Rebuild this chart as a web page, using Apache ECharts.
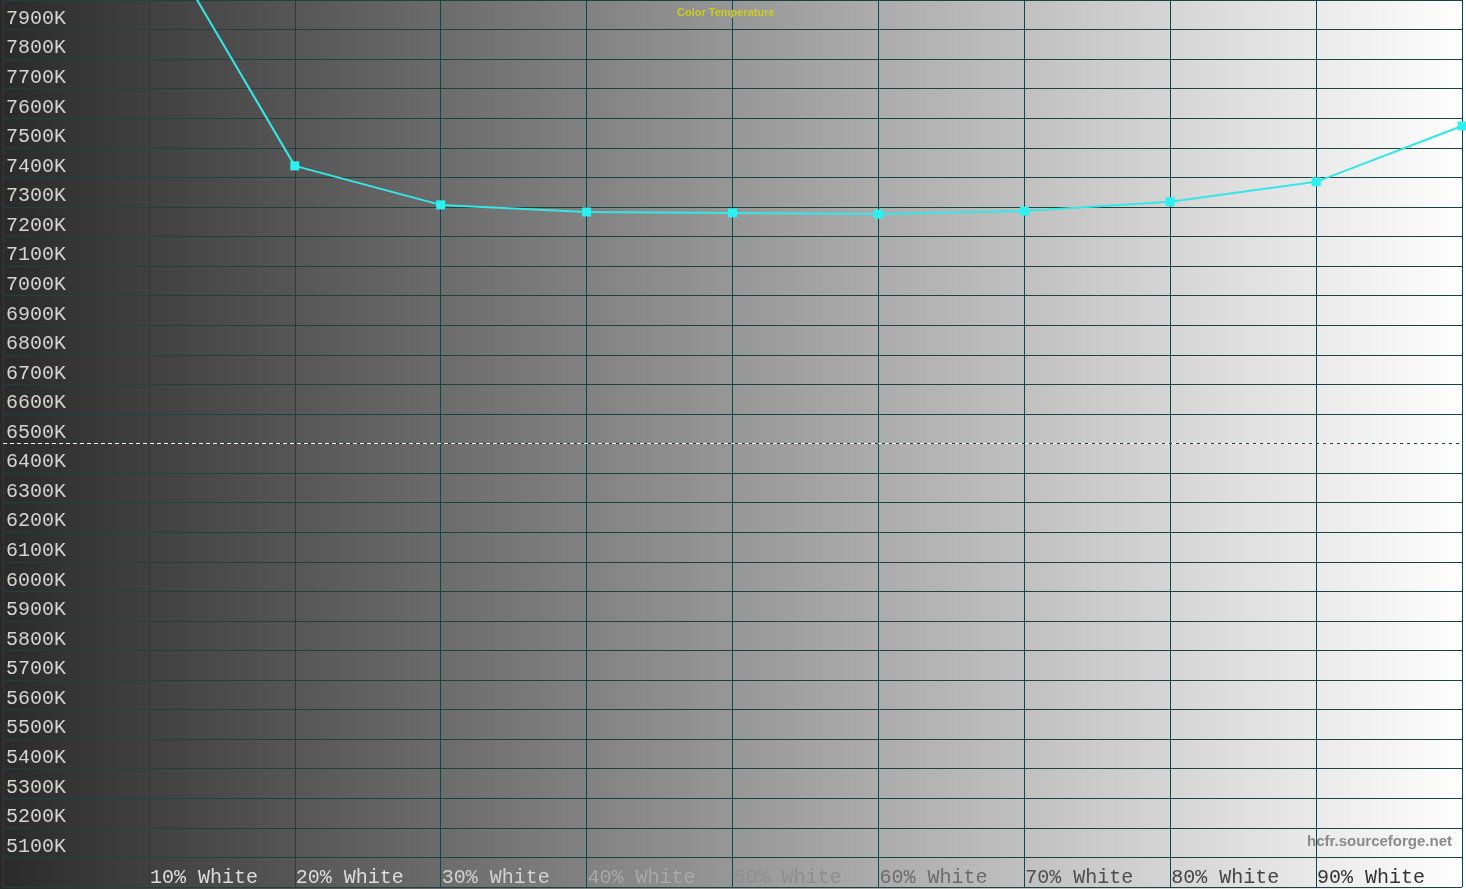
<!DOCTYPE html>
<html lang="en">

<head>
    <meta charset="UTF-8">
    <title>Color Temperature</title>
    <script src="https://cdn.jsdelivr.net/npm/echarts@6.0.0/dist/echarts.min.js"></script>
    <style>
        html, body { margin: 0; padding: 0; overflow: hidden; background: #fff; }
    </style>
</head>

<body>

    <div id="main" style="width: 1466px;height:889px;"></div>

    <script type="text/javascript">
        // niveis de cinza medidos (% White) e temperatura de cor lida em cada um
        const levels = [10, 20, 30, 40, 50, 60, 70, 80, 90, 100];
        const colorTemp = [8277, 7439, 7307, 7283, 7280, 7276, 7286, 7318, 7385, 7574];
        const xLabels = ['10% White', '20% White', '30% White', '40% White', '50% White',
            '60% White', '70% White', '80% White', '90% White'];
        const xLabelColors = ['#dcdcdc', '#dcdcdc', '#d2d2d2', '#a9a9a9', '#8e8e8e',
            '#6c6c6c', '#4e4e4e', '#444444', '#333333'];
        const referenceK = 6500;

        const mono = "'Courier New', 'Liberation Mono', 'DejaVu Sans Mono', monospace";

        var chart = echarts.init(document.getElementById('main'));

        var option = {
            animation: false,
            backgroundColor: {
                type: 'linear', x: 0, y: 0, x2: 1, y2: 0,
                colorStops: [
                    { offset: 0, color: '#2a2a2a' },
                    { offset: 0.5, color: '#979797' },
                    { offset: 1, color: '#ffffff' }
                ]
            },
            title: [
                {
                    text: 'Color Temperature',
                    left: 672, top: 2,
                    textStyle: { color: '#cccc22', fontSize: 11, fontWeight: 'bold', fontFamily: 'Arial, Liberation Sans, sans-serif' }
                },
                {
                    text: 'hcfr.sourceforge.net',
                    right: 9, top: 829,
                    textStyle: { color: '#8a8a8a', fontSize: 15, fontWeight: 'bold', fontFamily: 'Arial, Liberation Sans, sans-serif' }
                }
            ],
            grid: { left: 0, right: 1, top: 0, bottom: 2, containLabel: false },
            xAxis: {
                type: 'value',
                min: 0, max: 100, interval: 10,
                axisLine: { show: false },
                axisTick: { show: false },
                splitLine: { show: true, lineStyle: { color: '#1c4242', width: 1 } },
                axisLabel: {
                    inside: true,
                    align: 'left',
                    verticalAlign: 'bottom',
                    margin: -2,
                    padding: [0, 0, 0, 1],
                    fontFamily: mono,
                    fontSize: 20,
                    lineHeight: 22,
                    showMinLabel: true,
                    showMaxLabel: true,
                    formatter: (v) => (v > 0 && v < 100 ? xLabels[v / 10 - 1] : ''),
                    color: (v) => (v > 0 && v < 100 ? xLabelColors[v / 10 - 1] : 'transparent')
                }
            },
            yAxis: {
                type: 'value',
                min: 5000, max: 8000, interval: 100,
                axisLine: { show: false },
                axisTick: { show: false },
                splitLine: { show: true, lineStyle: { color: '#1c4242', width: 1 } },
                axisLabel: {
                    inside: true,
                    align: 'left',
                    verticalAlign: 'bottom',
                    margin: 3,
                    fontFamily: mono,
                    fontSize: 20,
                    lineHeight: 22,
                    color: '#d4d4d4',
                    showMinLabel: true,
                    showMaxLabel: true,
                    formatter: (v) => (v > 5000 && v < 8000 ? v + 'K' : '')
                }
            },
            series: [
                {
                    name: 'Color Temperature',
                    type: 'line',
                    data: levels.map((l, i) => [l, colorTemp[i]]),
                    clip: true,
                    symbol: 'rect',
                    symbolSize: 9,
                    lineStyle: { color: '#35e8e8', width: 2 },
                    itemStyle: { color: '#2ef0f0' },
                    markLine: {
                        silent: true,
                        symbol: 'none',
                        label: { show: false },
                        lineStyle: { color: '#ffffff', type: [4, 3], width: 1 },
                        data: [{ yAxis: referenceK }]
                    }
                }
            ]
        };

        chart.setOption(option);
    </script>
</body>

</html>
